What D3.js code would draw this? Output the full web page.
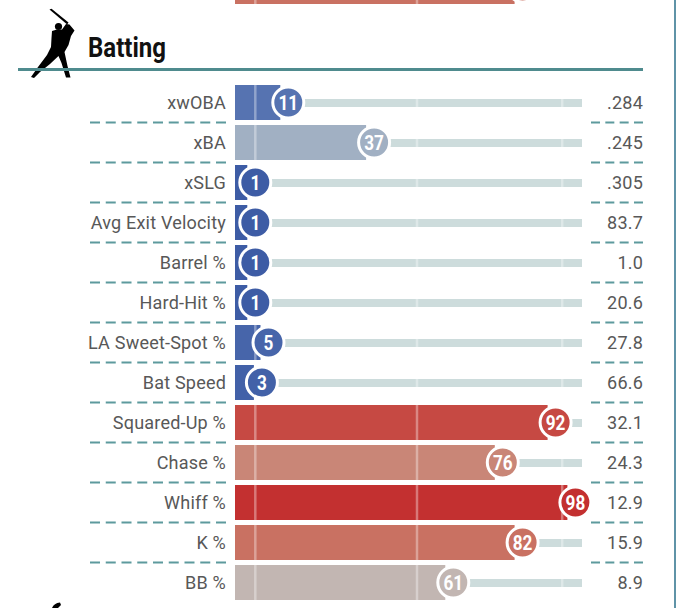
<!DOCTYPE html>
<html>
<head>
<meta charset="utf-8">
<script src="https://cdn.jsdelivr.net/npm/d3@7"></script>
<style>
  html, body { margin: 0; padding: 0; background: #fff; }
  #chart { width: 690px; height: 608px; overflow: hidden; }
</style>
</head>
<body>
<div id="chart"></div>
<script>
// stat rows of the batting section
var labels = ["xwOBA", "xBA", "xSLG", "Avg Exit Velocity", "Barrel %", "Hard-Hit %",
  "LA Sweet-Spot %", "Bat Speed", "Squared-Up %", "Chase %", "Whiff %", "K %", "BB %"];
var percentiles = [11, 37, 1, 1, 1, 1, 5, 3, 92, 76, 98, 82, 61];
var values = [".284", ".245", ".305", "83.7", "1.0", "20.6", "27.8", "66.6",
  "32.1", "24.3", "12.9", "15.9", "8.9"];
// last row of the section above, cut off by the top edge
var prevPercentiles = [82];
// reference lines, in percentile units
var gridPercentiles = [1, 50, 94];

(function () {
  var width = 690;
  var height = 608;
  var rowStep = 40;
  var barHeight = 35;
  var firstRow = 102.5;
  var barLeft = 235;
  var r = 15.5;

  var svg = d3.select("#chart").append("svg")
    .attr("width", width).attr("height", height);

  var x = d3.scaleLinear().domain([0, 100]).range([252, 582]);
  var y = function (i) { return firstRow + i * rowStep; };

  var color = d3.scaleLinear()
    .domain([0, 10, 30, 50, 60, 75, 85, 100])
    .range(["#3a5aa4", "#5370b0", "#8fa5c0", "#c2c4c8", "#c1b9b6", "#c98a7a", "#c96658", "#c2282a"]);

  var rows = percentiles.map(function (p, i) {
    return { label: labels[i], pct: p, value: values[i], cy: y(i), shown: true };
  });
  prevPercentiles.forEach(function (p) {
    rows.unshift({ label: "", pct: p, value: "", cy: y(-2.9), shown: false });
  });

  // right frame line
  svg.append("line")
    .attr("x1", 675).attr("x2", 675).attr("y1", 0).attr("y2", height)
    .attr("stroke", "#5f93a7").attr("stroke-width", 2);

  // header
  var head = svg.append("g");
  head.append("path")
    .attr("d", "M49.5,9.5 L51.5,8.8 L68.5,22.5 L67.2,24.6 Z")
    .attr("fill", "#000");
  head.append("circle").attr("cx", 58.5).attr("cy", 26.5).attr("r", 3.6).attr("fill", "#000");
  head.append("path")
    .attr("d", "M52,31 L57,29.5 L62,29.5 L66,24 L69.5,24.5 L74.5,30.5 L71,36 L68.5,45 L64.5,52 " +
      "L67.5,66 L70.5,77.5 L66,77.5 L61.5,63 L58.5,56 L50,64 L40,72 L34,78 L31,77 L38,67 " +
      "L47,55 L51,47 L51.5,38 Z")
    .attr("fill", "#000");
  head.append("text")
    .attr("x", 88).attr("y", 57)
    .attr("font-family", "Roboto, sans-serif").attr("font-weight", 700)
    .attr("font-size", 27).attr("fill", "#111")
    .attr("transform", "translate(88,0) scale(0.89,1) translate(-88,0)")
    .text("Batting");
  head.append("line")
    .attr("x1", 18).attr("x2", 643).attr("y1", 69.5).attr("y2", 69.5)
    .attr("stroke", "#4f8b8e").attr("stroke-width", 3);

  // dashed separators between rows
  var seps = d3.range(percentiles.length - 1);
  svg.selectAll(".sepL").data(seps).join("line")
    .attr("x1", 90).attr("x2", 226)
    .attr("y1", function (d) { return y(d) + rowStep / 2; })
    .attr("y2", function (d) { return y(d) + rowStep / 2; })
    .attr("stroke", "#5d9a9d").attr("stroke-width", 2)
    .attr("stroke-dasharray", "10,5.75");
  svg.selectAll(".sepR").data(seps).join("line")
    .attr("x1", 591).attr("x2", 643)
    .attr("y1", function (d) { return y(d) + rowStep / 2; })
    .attr("y2", function (d) { return y(d) + rowStep / 2; })
    .attr("stroke", "#5d9a9d").attr("stroke-width", 2)
    .attr("stroke-dasharray", "9,5.33");

  var g = svg.selectAll(".row").data(rows).join("g").attr("class", "row");

  // track from the marker to 100
  g.append("rect")
    .attr("x", function (d) { return x(d.pct); })
    .attr("y", function (d) { return d.cy - 3.5; })
    .attr("width", function (d) { return x(100) - x(d.pct); })
    .attr("height", 8)
    .attr("fill", "#cddcdc");

  // bar
  g.append("rect")
    .attr("x", barLeft)
    .attr("y", function (d) { return d.cy - barHeight / 2; })
    .attr("width", function (d) { return Math.max(0, x(d.pct) - 8 - barLeft); })
    .attr("height", barHeight)
    .attr("fill", function (d) { return color(d.pct); });

  // reference lines across bars and tracks
  g.selectAll(".grid").data(function (d) {
    return gridPercentiles.map(function (p) { return { p: p, cy: d.cy }; });
  }).join("line")
    .attr("x1", function (d) { return x(d.p); })
    .attr("x2", function (d) { return x(d.p); })
    .attr("y1", function (d) { return d.cy - barHeight / 2; })
    .attr("y2", function (d) { return d.cy + barHeight / 2; })
    .attr("stroke", "#fff").attr("stroke-opacity", 0.35).attr("stroke-width", 2.5);

  // marker
  g.append("circle")
    .attr("cx", function (d) { return x(d.pct); })
    .attr("cy", function (d) { return d.cy; })
    .attr("r", r)
    .attr("fill", function (d) { return color(d.pct); })
    .attr("stroke", "#fff").attr("stroke-width", 3);

  var shown = g.filter(function (d) { return d.shown; });

  shown.append("text")
    .attr("transform", function (d) { return "translate(" + x(d.pct) + "," + d.cy + ") scale(0.88,1)"; })
    .attr("dy", "0.36em")
    .attr("text-anchor", "middle")
    .attr("font-family", "Roboto, sans-serif").attr("font-weight", 700)
    .attr("font-size", 19.5).attr("fill", "#fff")
    .text(function (d) { return d.pct; });

  // label and value, slightly condensed
  shown.append("text")
    .attr("transform", function (d) { return "translate(226," + d.cy + ") scale(0.95,1)"; })
    .attr("dy", "0.36em")
    .attr("text-anchor", "end")
    .attr("font-family", "Roboto, sans-serif")
    .attr("font-size", 19).attr("letter-spacing", 0.2).attr("fill", "#585858")
    .text(function (d) { return d.label; });

  shown.append("text")
    .attr("transform", function (d) { return "translate(643," + d.cy + ") scale(0.95,1)"; })
    .attr("dy", "0.36em")
    .attr("text-anchor", "end")
    .attr("font-family", "Roboto, sans-serif")
    .attr("font-size", 19).attr("letter-spacing", 0.2).attr("fill", "#585858")
    .text(function (d) { return d.value; });

  // top of the next section's icon peeking in at the bottom
  svg.append("path")
    .attr("d", "M52,608 Q54,603 60,602.5 L61,605 L58,608 Z")
    .attr("fill", "#000");
})();
</script>
</body>
</html>
